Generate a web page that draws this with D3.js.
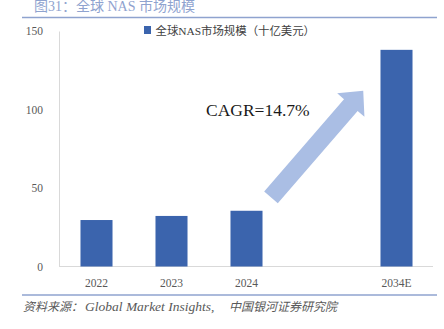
<!DOCTYPE html>
<html>
<head>
<meta charset="utf-8">
<script src="https://cdn.jsdelivr.net/npm/d3@7/dist/d3.min.js"></script>
<style>
  html, body { margin: 0; padding: 0; background: #fff; }
  svg { display: block; }
  text { font-family: "Liberation Serif", "Noto Sans CJK SC", serif; }
</style>
</head>
<body>
<script>
// Global NAS market size, billions of USD
const categories = ["2022", "2023", "2024", "", "2034E"];
const values = [29.6, 32.2, 35.5, null, 138];
const yTicks = [0, 50, 100, 150];
const seriesName = "全球NAS市场规模（十亿美元）";
const titleText = "图31：全球 NAS 市场规模";
const cagrText = "CAGR=14.7%";
const sourceCn1 = "资料来源：";
const sourceEn = "Global Market Insights,";
const sourceCn2 = "中国银河证券研究院";

const W = 444, H = 329;
const barColor = "#3b64ad";
const arrowColor = "#aabee4";
const ruleColor = "#8fa3cf";

const svg = d3.select("body").append("svg")
  .attr("width", W).attr("height", H);

// Scales
const x = d3.scaleBand()
  .domain(categories)
  .range([59, 434])
  .paddingInner(0.573)
  .paddingOuter(0.2865);

const y = d3.scaleLinear()
  .domain([0, 150])
  .range([266.5, 31]);

// Title and frame rules
svg.append("text")
  .attr("x", 34).attr("y", 11)
  .attr("font-size", 14)
  .attr("fill", ruleColor)
  .text(titleText);

svg.append("line")
  .attr("x1", 22).attr("x2", 437)
  .attr("y1", 17.5).attr("y2", 17.5)
  .attr("stroke", ruleColor).attr("stroke-width", 1.5);

svg.append("line")
  .attr("x1", 22).attr("x2", 437)
  .attr("y1", 295).attr("y2", 295)
  .attr("stroke", ruleColor).attr("stroke-width", 1.5);

// Axes
const yAxis = svg.append("g")
  .attr("transform", "translate(59,0)")
  .call(d3.axisLeft(y).tickValues(yTicks).tickSize(0).tickPadding(16));
yAxis.select(".domain").attr("stroke", "#d9d9d9");
yAxis.selectAll("text")
  .attr("font-size", 11.5)
  .attr("fill", "#595959")
  .style("font-family", "'Liberation Serif', serif");

const xAxis = svg.append("g")
  .attr("transform", `translate(0,${y(0)})`)
  .call(d3.axisBottom(x).tickSize(0).tickPadding(12));
xAxis.select(".domain")
  .attr("d", `M59,0H433`)
  .attr("stroke", "#d9d9d9");
xAxis.selectAll("text")
  .attr("font-size", 11.5)
  .attr("fill", "#595959")
  .style("font-family", "'Liberation Serif', serif");

// Bars
const rows = categories.map((c, i) => ({ c, v: values[i] })).filter(d => d.v != null);
svg.append("g").selectAll("rect")
  .data(rows)
  .join("rect")
  .attr("x", d => x(d.c))
  .attr("width", x.bandwidth())
  .attr("y", d => y(d.v))
  .attr("height", d => y(0) - y(d.v))
  .attr("fill", barColor);

// Legend
const lg = svg.append("g").attr("transform", "translate(144,26)");
lg.append("rect").attr("width", 7).attr("height", 8).attr("fill", barColor);
lg.append("text")
  .attr("x", 11.5).attr("y", 8.5)
  .attr("font-size", 11.4)
  .attr("fill", "#404040")
  .text(seriesName);

// Growth arrow, from the gap after 2024 up toward the 2034E bar
const step = x.step();
const tail = [x("") - 0.46 * step, y(44)];
const tip = [x("2034E") - 0.23 * step, y(112)];
const dx = tip[0] - tail[0], dy = tip[1] - tail[1];
const len = Math.hypot(dx, dy);
const ux = dx / len, uy = dy / len;      // along the arrow
const px = -uy, py = ux;                 // across the arrow
const shaftHalf = 9, headHalf = 18, headLen = 19;
const base = [tip[0] - ux * headLen, tip[1] - uy * headLen];
const pts = [
  [tail[0] + px * shaftHalf, tail[1] + py * shaftHalf],
  [base[0] + px * shaftHalf, base[1] + py * shaftHalf],
  [base[0] + px * headHalf, base[1] + py * headHalf],
  tip,
  [base[0] - px * headHalf, base[1] - py * headHalf],
  [base[0] - px * shaftHalf, base[1] - py * shaftHalf],
  [tail[0] - px * shaftHalf, tail[1] - py * shaftHalf]
];
svg.append("polygon")
  .attr("points", pts.map(p => p.join(",")).join(" "))
  .attr("fill", arrowColor);

svg.append("text")
  .attr("x", 206).attr("y", 115.5)
  .attr("font-size", 17.5)
  .attr("fill", "#1a1a1a")
  .text(cagrText);

// Source note
const src = svg.append("text")
  .attr("y", 311)
  .attr("fill", "#595959")
  .attr("font-style", "italic");
src.append("tspan").attr("x", 23).attr("font-size", 12).text(sourceCn1);
src.append("tspan").attr("x", 85).attr("font-size", 13.5).text(sourceEn);
src.append("tspan").attr("x", 229).attr("font-size", 12).text(sourceCn2);
</script>
</body>
</html>
